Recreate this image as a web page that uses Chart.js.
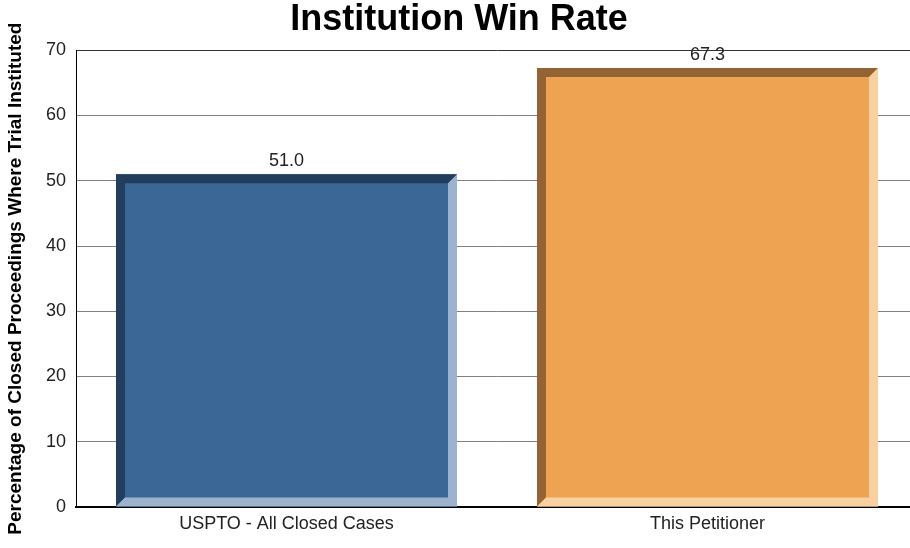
<!DOCTYPE html>
<html>
<head>
<meta charset="utf-8">
<script src="https://cdn.jsdelivr.net/npm/chart.js@4"></script>
<style>
  html, body { margin: 0; padding: 0; background: #fff; overflow: hidden; }
  #wrap { width: 910px; height: 548px; overflow: hidden; }
</style>
</head>
<body>
<div id="wrap"><canvas id="winChart" width="918" height="548"></canvas></div>
<script>
const categories = ['USPTO - All Closed Cases', 'This Petitioner'];
const winRates = [51.0, 67.3];
const yTicks = [0, 10, 20, 30, 40, 50, 60, 70];

const faceColors = ['#3b6797', '#eea353'];
const darkColors = ['#233e5d', '#946333'];
const lightColors = ['#9cb2cd', '#f9d0a2'];

const FONT = '"Liberation Sans", Arial, sans-serif';
const ctx = document.getElementById('winChart').getContext('2d');

// bevelled edges + value labels on each bar
const bevelPlugin = {
    id: 'bevel',
    afterDatasetsDraw(chart) {
        const c = chart.ctx;
        const meta = chart.getDatasetMeta(0);
        const d = 9;
        meta.data.forEach((bar, i) => {
            const p = bar.getProps(['x', 'y', 'base', 'width'], true);
            const l = p.x - p.width / 2, r = p.x + p.width / 2;
            const t = p.y, b = p.base;
            c.save();
            c.fillStyle = darkColors[i];
            c.beginPath();
            c.moveTo(l, b); c.lineTo(l, t); c.lineTo(r, t);
            c.lineTo(r - d, t + d); c.lineTo(l + d, t + d); c.lineTo(l + d, b - d);
            c.closePath(); c.fill();
            c.fillStyle = lightColors[i];
            c.beginPath();
            c.moveTo(r, t); c.lineTo(r, b); c.lineTo(l, b);
            c.lineTo(l + d, b - d); c.lineTo(r - d, b - d); c.lineTo(r - d, t + d);
            c.closePath(); c.fill();
            c.fillStyle = '#222';
            c.font = '18px ' + FONT;
            c.textAlign = 'center';
            c.textBaseline = 'bottom';
            c.fillText(winRates[i].toFixed(1), p.x, t - 4);
            c.restore();
        });
    }
};

new Chart(ctx, {
    type: 'bar',
    data: {
        labels: categories,
        datasets: [{
            label: 'Institution Win Rate',
            data: winRates,
            backgroundColor: faceColors,
            borderWidth: 0,
            categoryPercentage: 1,
            barPercentage: 0.81
        }]
    },
    options: {
        responsive: false,
        animation: false,
        layout: { padding: 0 },
        scales: {
            x: {
                grid: { display: false, drawTicks: false },
                border: { color: '#000', width: 2 },
                ticks: {
                    color: '#222',
                    padding: 6,
                    font: { family: FONT, size: 18 }
                },
                afterFit: (scale) => { scale.height = 41; }
            },
            y: {
                min: 0,
                max: 70,
                afterBuildTicks: (scale) => { scale.ticks = yTicks.map(v => ({ value: v })); },
                grid: {
                    drawTicks: false,
                    color: (c) => c.tick && c.tick.value === 70 ? '#333' : '#808080'
                },
                border: { color: '#000', width: 1 },
                ticks: {
                    color: '#222',
                    padding: 10,
                    font: { family: FONT, size: 18 }
                },
                title: {
                    display: true,
                    text: 'Percentage of Closed Proceedings Where Trial Instituted',
                    color: '#000',
                    padding: { top: 4, bottom: 0 },
                    font: { family: FONT, size: 19, weight: 'bold' }
                },
                afterFit: (scale) => { scale.width = 76; }
            }
        },
        plugins: {
            legend: { display: false },
            tooltip: { enabled: false },
            title: {
                display: true,
                text: 'Institution Win Rate',
                color: '#000',
                padding: { top: 2, bottom: 13 },
                font: { family: FONT, size: 36, weight: 'bold', lineHeight: 0.98 }
            }
        }
    },
    plugins: [bevelPlugin]
});
</script>
</body>
</html>
